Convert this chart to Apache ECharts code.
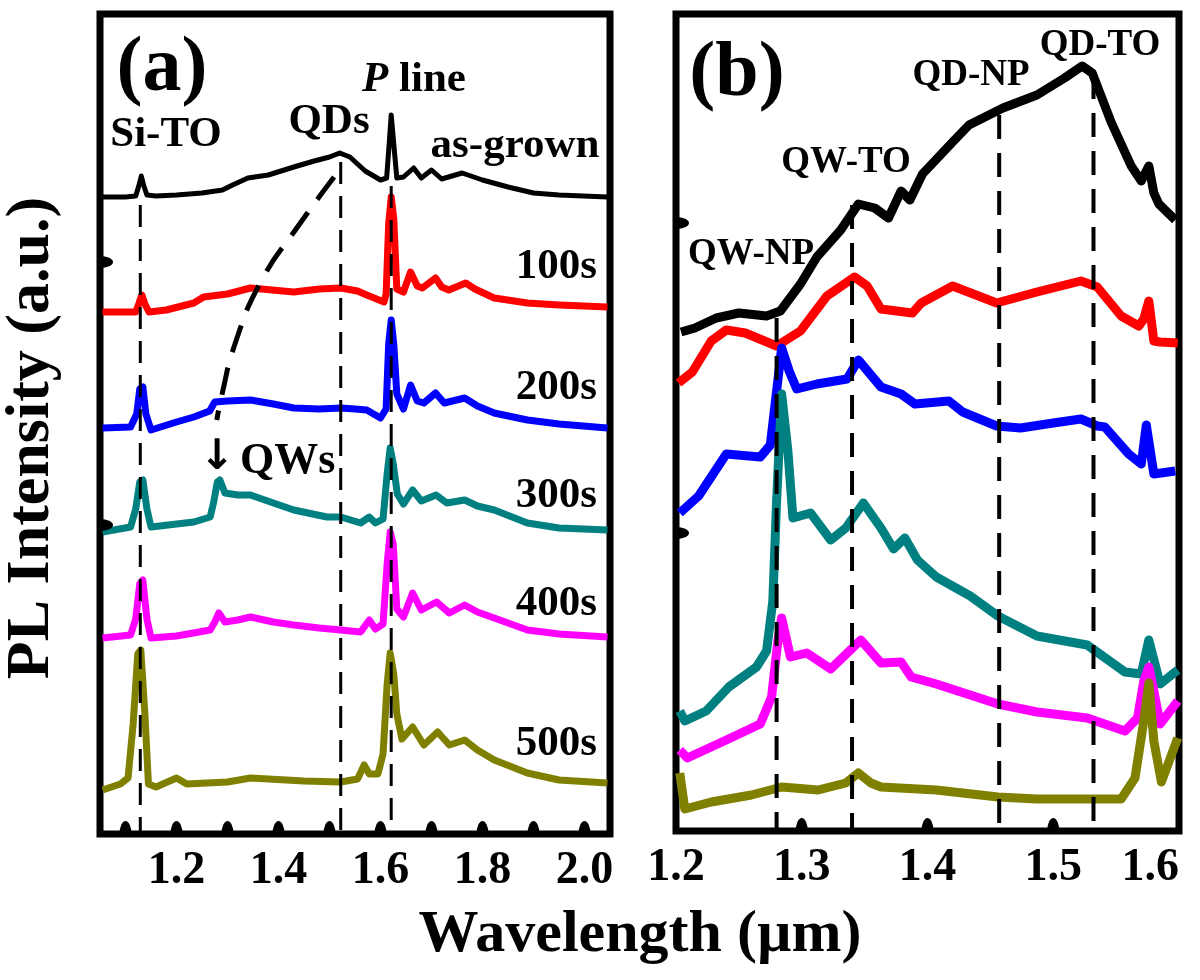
<!DOCTYPE html>
<html><head><meta charset="utf-8">
<script src="https://cdn.jsdelivr.net/npm/echarts@6/dist/echarts.min.js"></script>
<style>html,body{margin:0;padding:0;background:#fff}#c{width:1200px;height:980px}</style>
</head><body><div id="c"></div><script>
// ---------- Panel (a) data: [wavelength (µm), intensity (a.u., offset)] ----------
const aAsGrown = [[1.055,637],[1.10,637],[1.12,638],[1.126,648],[1.131,658],[1.136,648],[1.142,639],[1.16,638],[1.20,639],[1.25,641],[1.29,644],[1.31,649],[1.34,656],[1.38,659],[1.43,667],[1.47,673],[1.50,677],[1.52,681],[1.54,677],[1.57,663],[1.60,654],[1.612,656],[1.617,690],[1.621,719],[1.626,690],[1.632,656],[1.645,657],[1.665,666],[1.68,656],[1.70,664],[1.72,655],[1.76,661],[1.80,654],[1.85,647],[1.90,641],[1.95,639],[2.045,637]];
const a100s = [[1.055,522],[1.12,522],[1.126,530],[1.132,539],[1.138,530],[1.146,522],[1.18,524],[1.234,531],[1.253,537],[1.30,540],[1.345,546],[1.43,542],[1.48,545],[1.522,546],[1.555,543],[1.573,539],[1.607,532],[1.611,540],[1.616,610],[1.621,637],[1.626,615],[1.632,545],[1.645,542],[1.659,562],[1.672,548],[1.682,546],[1.708,556],[1.72,547],[1.734,544],[1.767,551],[1.785,545],[1.823,536],[1.888,531],[1.95,529],[2.045,527]];
const a200s = [[1.055,406],[1.11,407],[1.122,420],[1.128,445],[1.134,447],[1.14,420],[1.15,404],[1.2,412],[1.234,417],[1.265,423],[1.275,432],[1.30,433],[1.345,434],[1.39,430],[1.43,426],[1.48,425],[1.522,426],[1.55,425],[1.573,424],[1.60,416],[1.611,425],[1.616,490],[1.621,514],[1.626,490],[1.632,440],[1.645,425],[1.659,449],[1.672,433],[1.685,431],[1.708,441],[1.725,431],[1.765,436],[1.79,428],[1.823,421],[1.888,414],[1.95,410],[2.045,406]];
const a300s = [[1.055,302],[1.11,307],[1.12,325],[1.128,352],[1.134,354],[1.142,325],[1.15,307],[1.234,312],[1.266,317],[1.273,332],[1.28,352],[1.285,354],[1.295,341],[1.32,339],[1.345,339],[1.39,331],[1.43,324],[1.495,317],[1.522,317],[1.561,311],[1.578,317],[1.59,311],[1.605,315],[1.613,360],[1.619,386],[1.625,370],[1.633,340],[1.645,330],[1.663,344],[1.68,333],[1.709,339],[1.73,331],[1.765,334],[1.79,328],[1.823,324],[1.888,311],[1.95,306],[2.045,304]];
const a400s = [[1.055,196],[1.11,199],[1.12,215],[1.128,250],[1.134,254],[1.142,215],[1.15,196],[1.2,198],[1.266,204],[1.275,212],[1.283,221],[1.295,212],[1.32,214],[1.345,217],[1.39,212],[1.43,209],[1.48,206],[1.522,204],[1.561,202],[1.578,214],[1.59,205],[1.605,210],[1.613,270],[1.619,302],[1.625,290],[1.632,225],[1.645,217],[1.663,241],[1.68,224],[1.71,232],[1.735,221],[1.765,229],[1.79,222],[1.823,216],[1.888,204],[1.95,200],[2.045,197]];
const a500s = [[1.055,44],[1.09,50],[1.105,56],[1.115,110],[1.124,180],[1.13,184],[1.138,120],[1.145,50],[1.16,47],[1.2,56],[1.22,50],[1.3,52],[1.345,56],[1.45,53],[1.522,52],[1.555,55],[1.568,69],[1.578,60],[1.595,60],[1.605,80],[1.613,150],[1.619,181],[1.626,160],[1.632,120],[1.642,95],[1.663,107],[1.685,89],[1.712,102],[1.735,89],[1.765,94],[1.79,84],[1.823,74],[1.888,61],[1.95,54],[2.045,51]];
const aShiftCurve = [[1.509,657],[1.44,609],[1.365,552],[1.314,489],[1.289,439],[1.279,414]];
const aMarkerX = [1.129, 1.522, 1.621];
const aMarkerTop = [629, 672, 648];
const aTickLabels = [1.2, 1.4, 1.6, 1.8, 2.0];
const aTickDots = [1.1, 1.2, 1.3, 1.4, 1.5, 1.6, 1.7, 1.8, 1.9, 2.0];
const aYDots = [309, 572];

// ---------- Panel (b) data ----------
const bAsGrown = [[1.204,499],[1.215,503],[1.232,513],[1.25,518],[1.272,515],[1.283,520],[1.299,547],[1.312,574],[1.331,601],[1.345,627],[1.358,623],[1.369,613],[1.379,640],[1.386,631],[1.396,657],[1.42,689],[1.433,706],[1.46,723],[1.487,736],[1.509,753],[1.523,765],[1.531,758],[1.546,709],[1.562,665],[1.570,650],[1.576,665],[1.580,638],[1.584,627],[1.597,611]];
const b100s = [[1.202,448],[1.213,459],[1.228,490],[1.24,501],[1.255,498],[1.28,485],[1.299,500],[1.32,535],[1.342,554],[1.352,545],[1.363,522],[1.388,518],[1.395,528],[1.42,545],[1.455,528],[1.487,539],[1.522,550],[1.535,544],[1.554,515],[1.568,505],[1.572,512],[1.576,530],[1.580,490],[1.585,489],[1.599,488]];
const b200s = [[1.203,318],[1.218,335],[1.24,377],[1.267,374],[1.275,386],[1.280,440],[1.284,483],[1.29,460],[1.296,442],[1.312,447],[1.336,452],[1.345,471],[1.363,444],[1.379,437],[1.39,427],[1.417,430],[1.428,419],[1.455,405],[1.474,403],[1.50,408],[1.522,412],[1.535,405],[1.541,404],[1.56,377],[1.57,367],[1.574,406],[1.58,357],[1.597,360]];
const b300s = [[1.203,120],[1.207,110],[1.224,120],[1.242,144],[1.264,164],[1.272,180],[1.277,230],[1.280,330],[1.284,437],[1.289,380],[1.293,313],[1.307,318],[1.323,291],[1.335,303],[1.349,328],[1.363,303],[1.373,282],[1.382,293],[1.392,271],[1.407,254],[1.434,235],[1.456,215],[1.487,195],[1.527,186],[1.557,159],[1.570,157],[1.576,191],[1.585,147],[1.599,161]];
const b400s = [[1.203,81],[1.209,73],[1.24,91],[1.267,107],[1.276,134],[1.281,190],[1.284,213],[1.291,174],[1.304,178],[1.323,162],[1.347,191],[1.363,168],[1.379,169],[1.387,154],[1.407,147],[1.456,127],[1.487,119],[1.527,113],[1.557,100],[1.567,113],[1.572,150],[1.576,164],[1.58,140],[1.585,107],[1.599,130]];
const b500s = [[1.203,58],[1.207,22],[1.228,29],[1.26,36],[1.284,44],[1.313,41],[1.335,48],[1.345,58],[1.355,48],[1.363,44],[1.407,41],[1.456,34],[1.487,32],[1.554,32],[1.565,53],[1.572,110],[1.576,148],[1.58,90],[1.586,49],[1.599,93]];
const bMarkerX = [1.28, 1.34, 1.457, 1.532];
const bMarkerTop = [513, 626, 716, 756];
const bTickLabels = [1.2, 1.3, 1.4, 1.5, 1.6];
const bTickDots = [1.3, 1.4, 1.5];
const bYDots = [298, 608];

// ---------- styles ----------
const FONT = '"Liberation Serif","Times New Roman",serif';
const COLORS = ['#000000', '#ff0000', '#0000ff', '#008080', '#ff00ff', '#808000'];
const aCurves = [aAsGrown, a100s, a200s, a300s, a400s, a500s];
const bCurves = [bAsGrown, b100s, b200s, b300s, b400s, b500s];
const DOT_UP = 'path://M0,0 A10,10 0 0 1 20,0 Z';
const DOT_RIGHT = 'path://M0,0 A10,10 0 0 1 0,20 Z';

const chart = echarts.init(document.getElementById('c'), null, {renderer: 'canvas'});

const series = [];
aCurves.forEach((d, i) => series.push({
  type: 'line', xAxisIndex: 0, yAxisIndex: 0, data: d, showSymbol: false,
  lineStyle: {color: COLORS[i], width: i === 0 ? 5 : 7, join: 'round'}, z: 3
}));
bCurves.forEach((d, i) => series.push({
  type: 'line', xAxisIndex: 1, yAxisIndex: 1, data: d, showSymbol: false,
  lineStyle: {color: COLORS[i], width: 9, join: 'round'}, z: 3
}));
aMarkerX.forEach((x, i) => series.push({
  type: 'line', xAxisIndex: 0, yAxisIndex: 0, data: [[x, aMarkerTop[i]], [x, 0]], showSymbol: false,
  lineStyle: {color: '#000', width: 3, type: [22, 12]}, z: 4
}));
bMarkerX.forEach((x, i) => series.push({
  type: 'line', xAxisIndex: 1, yAxisIndex: 1, data: [[x, bMarkerTop[i]], [x, 0]], showSymbol: false,
  lineStyle: {color: '#000', width: 4, type: [24, 14]}, z: 4
}));
series.push({
  type: 'line', xAxisIndex: 0, yAxisIndex: 0, data: aShiftCurve, showSymbol: false, smooth: true,
  lineStyle: {color: '#000', width: 5, type: [28, 16]}, z: 4
});
// tick dots on the frames
function dots(xi, pts, sym, size, off) {
  series.push({type: 'scatter', xAxisIndex: xi, yAxisIndex: xi, data: pts, symbol: sym,
    symbolSize: size, symbolOffset: off, clip: false, silent: true,
    itemStyle: {color: '#000', opacity: 1}, z: 6});
}
dots(0, aTickDots.map(v => [v, 0]), DOT_UP, [12, 13], [0, -6.5]);
dots(1, bTickDots.map(v => [v, 0]), DOT_UP, [12, 13], [0, -6.5]);
dots(0, aYDots.map(v => [1.05, v]), DOT_RIGHT, [13, 12], [6.5, 0]);
dots(1, bYDots.map(v => [1.2, v]), DOT_RIGHT, [13, 12], [6.5, 0]);

function near(list, v) { return list.some(t => Math.abs(t - v) < 1e-6); }
const labelStyle = {fontSize: 46, fontWeight: 'bold', fontFamily: FONT, color: '#000', margin: 14};

function txt(text, x, y, size, align, extra) {
  return Object.assign({
    type: 'text', x: x, y: y, z: 100,
    style: {text: text, fontSize: size, fontWeight: 'bold', fontFamily: FONT, fill: '#000',
      align: align || 'center', verticalAlign: 'middle'}
  }, extra || {});
}

chart.setOption({
  animation: false,
  backgroundColor: '#fff',
  grid: [
    {left: 100, top: 14, width: 510, height: 820, show: true, borderColor: '#000', borderWidth: 7, backgroundColor: 'transparent'},
    {left: 676, top: 14, width: 503, height: 817, show: true, borderColor: '#000', borderWidth: 7, backgroundColor: 'transparent'}
  ],
  xAxis: [
    {gridIndex: 0, type: 'value', min: 1.05, max: 2.05, splitNumber: 10,
      axisLine: {show: false}, splitLine: {show: false}, axisTick: {show: false},
      axisLabel: Object.assign({}, labelStyle, {formatter: v => near(aTickLabels, v) ? v.toFixed(1) : ''})},
    {gridIndex: 1, type: 'value', min: 1.2, max: 1.6, interval: 0.1,
      axisLine: {show: false}, splitLine: {show: false}, axisTick: {show: false},
      axisLabel: Object.assign({}, labelStyle, {alignMaxLabel: 'right', formatter: v => near(bTickLabels, v) ? v.toFixed(1) : ''})}
  ],
  yAxis: [
    {gridIndex: 0, type: 'value', min: 0, max: 820, show: false},
    {gridIndex: 1, type: 'value', min: 0, max: 817, show: false}
  ],
  series: series,
  graphic: [
    txt('(a)', 162, 70, 78),
    txt('Si-TO', 166, 135, 43),
    txt('QDs', 329, 122, 43),
    {type: 'text', x: 414, y: 80, z: 100, style: {
      text: '{i|P} line', fontSize: 43, fontWeight: 'bold', fontFamily: FONT, fill: '#000', align: 'center', verticalAlign: 'middle',
      rich: {i: {fontStyle: 'italic', fontSize: 43, fontWeight: 'bold', fontFamily: FONT}}}},
    txt('as-grown', 515, 146, 43),
    txt('100s', 597, 267, 43, 'right'),
    txt('200s', 597, 388, 43, 'right'),
    txt('300s', 597, 496, 43, 'right'),
    txt('400s', 597, 604, 43, 'right'),
    txt('500s', 597, 744, 43, 'right'),
    txt('↓', 217, 458, 40, 'center', {style: {text: '↓', fontSize: 42, fontWeight: 'bold', fontFamily: '"DejaVu Sans",sans-serif', fill: '#000', align: 'center', verticalAlign: 'middle'}}),
    txt('QWs', 240, 462, 44, 'left'),
    txt('(b)', 737, 75, 78),
    txt('QD-TO', 1100, 45, 37),
    txt('QD-NP', 971, 75, 37),
    txt('QW-TO', 846, 162, 37),
    txt('QW-NP', 751, 254, 37),
    txt('PL Intensity (a.u.)', 32, 438, 62, 'center', {rotation: Math.PI / 2}),
    txt('Wavelength (µm)', 640, 935, 60)
  ]
});
</script></body></html>
